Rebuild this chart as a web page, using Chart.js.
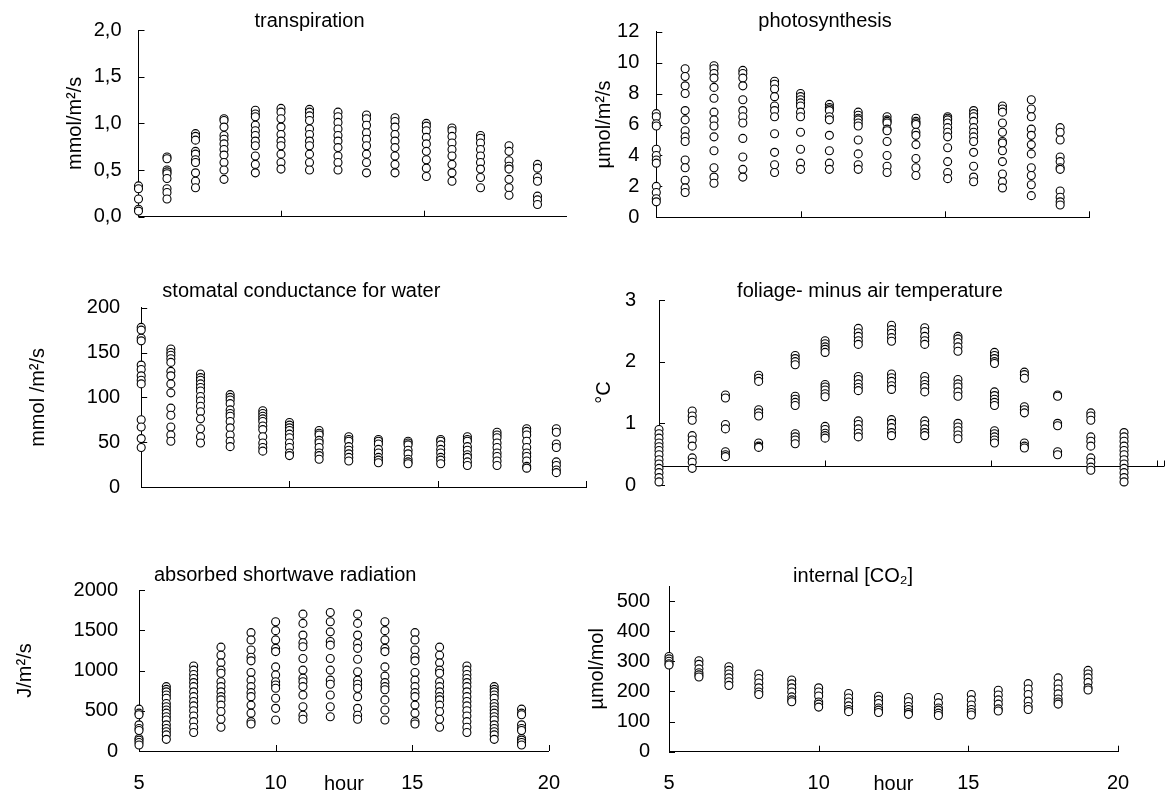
<!DOCTYPE html>
<html>
<head>
<meta charset="utf-8">
<script src="https://cdn.jsdelivr.net/npm/chart.js@4"></script>
<style>
  body { margin: 0; background: #fff; }
  #page { position: relative; width: 1169px; height: 796px; overflow: hidden; }
  .panel { position: absolute; }
</style>
</head>
<body>
<div id="page">
  <div class="panel" style="left:0;top:0;width:580px;height:255px"><canvas id="transp"></canvas></div>
  <div class="panel" style="left:580px;top:0;width:589px;height:255px"><canvas id="photo"></canvas></div>
  <div class="panel" style="left:0;top:262px;width:595px;height:258px"><canvas id="gs"></canvas></div>
  <div class="panel" style="left:580px;top:262px;width:589px;height:258px"><canvas id="dtemp"></canvas></div>
  <div class="panel" style="left:0;top:555px;width:580px;height:241px"><canvas id="rad"></canvas></div>
  <div class="panel" style="left:580px;top:555px;width:589px;height:241px"><canvas id="ci"></canvas></div>
</div>
<script>
// measurement hours (the 9 and 15 o'clock runs started a little late)
const hours = [5, 6, 7, 8, 9.1, 10, 11, 12, 13, 14, 15.1, 16, 17, 18, 19];

// one inner list per hour, in the order of `hours`
const transpiration = [
  [0.33, 0.30, 0.19, 0.08, 0.06],
  [0.64, 0.62, 0.50, 0.48, 0.46, 0.41, 0.30, 0.26, 0.19],
  [0.89, 0.86, 0.82, 0.70, 0.67, 0.61, 0.58, 0.47, 0.38, 0.31],
  [1.05, 1.03, 0.96, 0.87, 0.83, 0.78, 0.72, 0.66, 0.58, 0.50, 0.40],
  [1.14, 1.10, 1.07, 0.98, 0.92, 0.87, 0.81, 0.76, 0.65, 0.56, 0.47],
  [1.16, 1.12, 1.05, 0.96, 0.88, 0.81, 0.76, 0.67, 0.58, 0.51],
  [1.15, 1.12, 1.08, 1.03, 0.94, 0.88, 0.81, 0.76, 0.67, 0.58, 0.50],
  [1.12, 1.07, 1.01, 0.94, 0.87, 0.81, 0.74, 0.65, 0.58, 0.50],
  [1.09, 1.05, 0.98, 0.90, 0.83, 0.76, 0.67, 0.58, 0.47],
  [1.06, 1.02, 0.96, 0.88, 0.81, 0.74, 0.65, 0.56, 0.47],
  [1.00, 0.97, 0.92, 0.85, 0.78, 0.70, 0.61, 0.52, 0.43],
  [0.95, 0.92, 0.86, 0.79, 0.72, 0.65, 0.56, 0.47, 0.38],
  [0.87, 0.84, 0.79, 0.72, 0.65, 0.58, 0.51, 0.42, 0.31],
  [0.76, 0.70, 0.60, 0.54, 0.51, 0.40, 0.31, 0.23],
  [0.56, 0.52, 0.42, 0.38, 0.22, 0.18, 0.13]
];

const photosynthesis = [
  [6.7, 6.5, 6.05, 5.9, 4.4, 4.0, 3.7, 3.5, 2.0, 1.6, 1.2, 1.0],
  [9.6, 9.1, 8.5, 8.0, 6.9, 6.3, 5.6, 5.2, 4.9, 3.7, 3.2, 2.4, 1.9, 1.6],
  [9.8, 9.6, 9.3, 9.0, 8.4, 7.7, 6.8, 6.3, 5.9, 5.2, 4.3, 3.2, 2.6, 2.2],
  [9.5, 9.3, 9.0, 8.5, 7.6, 6.9, 6.5, 6.1, 5.1, 3.9, 3.1, 2.6],
  [8.8, 8.6, 8.3, 7.8, 7.2, 6.9, 6.5, 5.4, 4.2, 3.4, 2.9],
  [8.0, 7.8, 7.6, 7.4, 7.2, 6.8, 6.5, 5.5, 4.4, 3.5, 3.1],
  [7.3, 7.1, 7.0, 6.9, 6.5, 6.3, 5.3, 4.3, 3.5, 3.1],
  [6.8, 6.6, 6.4, 6.3, 6.1, 5.9, 5.0, 4.1, 3.4, 3.1],
  [6.5, 6.3, 6.2, 6.1, 5.7, 5.6, 4.9, 4.0, 3.3, 2.9],
  [6.4, 6.2, 6.1, 6.0, 5.5, 5.3, 4.7, 3.8, 3.2, 2.7],
  [6.5, 6.4, 6.3, 6.1, 5.8, 5.5, 5.2, 4.5, 3.6, 2.9, 2.5],
  [6.9, 6.7, 6.5, 6.2, 5.8, 5.5, 5.2, 4.9, 4.2, 3.3, 2.6, 2.3],
  [7.2, 7.0, 6.8, 6.1, 5.5, 4.9, 4.8, 4.3, 3.6, 2.8, 2.3, 1.9],
  [7.6, 7.0, 6.5, 5.7, 5.3, 4.7, 4.1, 3.2, 2.7, 2.1, 1.4],
  [5.8, 5.5, 5.0, 3.9, 3.6, 3.2, 3.1, 1.7, 1.3, 1.0, 0.8]
];

const conductance = [
  [178, 175, 166, 163, 136, 131, 124, 119, 115, 75, 67, 54, 44],
  [154, 150, 147, 143, 139, 129, 124, 115, 105, 88, 80, 67, 58, 51],
  [126, 122, 119, 115, 111, 107, 101, 96, 90, 84, 76, 65, 56, 49],
  [103, 100, 97, 93, 86, 82, 79, 73, 66, 58, 51, 45],
  [85, 82, 79, 76, 73, 68, 64, 56, 49, 44, 40],
  [72, 69, 66, 63, 59, 55, 49, 44, 38, 35],
  [63, 60, 58, 52, 49, 44, 38, 35, 31],
  [56, 53, 51, 45, 41, 37, 33, 29],
  [53, 51, 48, 42, 38, 33, 30, 27],
  [51, 49, 47, 41, 37, 31, 28, 26],
  [53, 51, 47, 42, 38, 33, 30, 26],
  [56, 53, 51, 45, 41, 36, 33, 28, 24],
  [61, 58, 55, 49, 44, 38, 34, 29, 24],
  [65, 62, 58, 51, 44, 38, 34, 29, 23, 21],
  [65, 61, 48, 44, 28, 24, 19, 16]
];

const leafAirDiff = [
  [0.90, 0.83, 0.76, 0.68, 0.62, 0.56, 0.49, 0.41, 0.34, 0.27, 0.20, 0.12, 0.05],
  [1.20, 1.12, 1.05, 0.80, 0.73, 0.63, 0.44, 0.37, 0.27],
  [1.46, 1.41, 0.98, 0.91, 0.54, 0.49, 0.46],
  [1.78, 1.73, 1.68, 1.22, 1.17, 1.12, 0.68, 0.63, 0.61],
  [2.10, 2.05, 2.00, 1.95, 1.44, 1.39, 1.34, 1.29, 0.83, 0.78, 0.73, 0.67],
  [2.34, 2.29, 2.24, 2.20, 2.15, 1.63, 1.59, 1.54, 1.48, 1.43, 0.95, 0.90, 0.84, 0.80, 0.76],
  [2.54, 2.47, 2.41, 2.34, 2.28, 1.76, 1.71, 1.64, 1.58, 1.53, 1.04, 0.98, 0.91, 0.84, 0.78],
  [2.59, 2.52, 2.46, 2.39, 2.33, 1.80, 1.74, 1.68, 1.61, 1.55, 1.06, 1.00, 0.93, 0.85, 0.80],
  [2.55, 2.49, 2.41, 2.34, 2.28, 1.76, 1.69, 1.63, 1.58, 1.51, 1.04, 0.98, 0.91, 0.85, 0.80],
  [2.41, 2.37, 2.31, 2.24, 2.17, 1.71, 1.64, 1.59, 1.51, 1.44, 1.00, 0.94, 0.88, 0.81, 0.75],
  [2.15, 2.10, 2.05, 2.00, 1.97, 1.51, 1.45, 1.39, 1.34, 1.29, 0.88, 0.83, 0.78, 0.73, 0.68],
  [1.83, 1.79, 1.73, 1.27, 1.22, 1.17, 0.68, 0.63, 0.60],
  [1.46, 1.44, 1.00, 0.96, 0.54, 0.49],
  [1.17, 1.12, 1.05, 0.78, 0.71, 0.63, 0.44, 0.37, 0.29, 0.24],
  [0.85, 0.78, 0.71, 0.63, 0.56, 0.49, 0.41, 0.34, 0.27, 0.20, 0.12, 0.05]
];

const radiation = [
  [520, 470, 450, 325, 280, 255, 155, 135, 105, 75],
  [800, 765, 735, 695, 655, 590, 550, 510, 470, 425, 385, 325, 280, 240, 200, 145],
  [1055, 1005, 950, 900, 850, 800, 735, 675, 615, 560, 500, 435, 365, 295, 230],
  [1290, 1190, 1095, 1005, 965, 860, 800, 735, 675, 635, 570, 490, 395, 295],
  [1470, 1380, 1255, 1165, 1120, 975, 880, 800, 725, 675, 570, 470, 365, 335],
  [1605, 1495, 1380, 1275, 1235, 1045, 945, 860, 820, 780, 655, 530, 385],
  [1700, 1585, 1440, 1345, 1295, 1150, 1005, 905, 860, 800, 695, 550, 445, 395],
  [1720, 1605, 1480, 1360, 1315, 1150, 1005, 880, 830, 695, 550, 425],
  [1700, 1585, 1440, 1335, 1275, 1140, 985, 880, 830, 780, 675, 530, 445, 395],
  [1605, 1495, 1380, 1275, 1235, 1045, 930, 850, 800, 760, 635, 510, 385],
  [1470, 1380, 1255, 1165, 1120, 975, 880, 800, 725, 675, 570, 470, 365, 335],
  [1290, 1190, 1095, 1005, 965, 860, 800, 735, 675, 635, 570, 490, 395, 295],
  [1055, 1005, 950, 900, 850, 800, 735, 675, 615, 560, 500, 435, 365, 295, 230],
  [800, 765, 735, 695, 655, 590, 550, 510, 470, 425, 385, 325, 280, 240, 200, 145],
  [520, 470, 450, 325, 280, 255, 155, 135, 105, 75]
];

const internalCO2 = [
  [316, 308, 300, 292, 288],
  [302, 290, 275, 262, 255, 248],
  [282, 270, 258, 245, 232, 220],
  [258, 243, 228, 212, 198, 190],
  [238, 225, 212, 198, 182, 172, 166],
  [212, 198, 185, 165, 158, 148],
  [193, 178, 165, 152, 140, 133],
  [184, 172, 160, 145, 138, 130],
  [180, 166, 150, 140, 130, 124],
  [180, 162, 145, 138, 128, 120],
  [190, 172, 155, 140, 130, 122],
  [204, 188, 172, 158, 142, 135],
  [226, 208, 190, 168, 150, 140],
  [245, 225, 208, 192, 175, 165, 158],
  [270, 258, 245, 230, 212, 205]
];

const FONT = { family: '"Liberation Sans", Arial, sans-serif', size: 20 };
Chart.defaults.font.family = FONT.family;
Chart.defaults.font.size = FONT.size;
Chart.defaults.color = '#000';

function plain(v) { return String(v); }
function comma(v) { return v.toFixed(1).replace('.', ','); }

function makePanel(id, values, cfg) {
  const a = cfg.area;       // chart area inside the canvas box
  const W = cfg.w, H = cfg.h;
  const crossed = cfg.crossY !== undefined;

  const points = [];
  hours.forEach((h, i) => {
    values[i].forEach(v => points.push({ x: h, y: v }));
  });

  // short inward tick marks, Excel style, plus the panel heading
  const decor = {
    id: 'decor',
    beforeDatasetsDraw(chart) {
      const ctx = chart.ctx;
      const xs = chart.scales.x, ys = chart.scales.y;
      const axisY = ys.getPixelForValue(crossed ? cfg.crossY : ys.min);
      ctx.save();
      ctx.strokeStyle = '#000';
      ctx.lineWidth = 1;
      ctx.beginPath();
      cfg.xTicks.forEach(v => {
        const px = Math.round(xs.getPixelForValue(v)) + 0.5;
        ctx.moveTo(px, axisY);
        ctx.lineTo(px, axisY - 6);
      });
      ys.ticks.forEach(t => {
        const py = Math.round(ys.getPixelForValue(t.value)) + 0.5;
        ctx.moveTo(chart.chartArea.left, py);
        ctx.lineTo(chart.chartArea.left + 6, py);
      });
      ctx.stroke();
      ctx.restore();
    },
    afterDraw(chart) {
      const ctx = chart.ctx;
      ctx.save();
      ctx.font = FONT.size + 'px ' + FONT.family;
      ctx.fillStyle = '#000';
      ctx.textAlign = 'center';
      ctx.textBaseline = 'middle';
      ctx.fillText(cfg.title, chart.scales.x.getPixelForValue(cfg.titleAt), cfg.titleY);
      ctx.restore();
    }
  };

  return new Chart(document.getElementById(id), {
    type: 'scatter',
    data: {
      datasets: [{
        data: points,
        pointRadius: 4,
        pointHoverRadius: 4,
        pointBorderWidth: 1.1,
        borderColor: '#000',
        backgroundColor: '#fff',
        clip: false
      }]
    },
    options: {
      animation: false,
      responsive: true,
      maintainAspectRatio: false,
      events: [],
      layout: { padding: { top: a.t, right: W - a.r, bottom: crossed ? H - a.b : 0, left: 0 } },
      plugins: { legend: { display: false }, tooltip: { enabled: false } },
      scales: {
        x: {
          type: 'linear',
          min: 5,
          max: cfg.xMax || 20,
          position: crossed ? { y: cfg.crossY } : 'bottom',
          grid: { display: false, drawTicks: false },
          border: { display: true, color: '#000', width: 1 },
          ticks: { display: !!cfg.xLabels, stepSize: 5, padding: 20, maxRotation: 0, callback: plain },
          title: { display: !!cfg.xLabels, text: 'hour', padding: 0 },
          afterFit(s) { if (!crossed) s.height = H - a.b; }
        },
        y: {
          min: cfg.yMin,
          max: cfg.yMax,
          grid: { display: false, drawTicks: false },
          border: { display: true, color: '#000', width: 1 },
          ticks: { stepSize: cfg.yStep, includeBounds: false, padding: cfg.tickPad, callback: cfg.fmt || plain },
          title: { display: true, text: cfg.yLabel, padding: { top: cfg.labelPad, bottom: 0 } },
          afterFit(s) { s.width = a.l; }
        }
      }
    },
    plugins: [decor]
  });
}

makePanel('transp', transpiration, {
  w: 580, h: 255, area: { l: 138.5, t: 30, r: 566, b: 216.7 },
  yMin: 0, yMax: 2, yStep: 0.5, fmt: comma, tickPad: 17,
  yLabel: 'mmol/m²/s', labelPad: 63,
  title: 'transpiration', titleAt: 11.0, titleY: 21.7,
  xTicks: [10, 15]
});

makePanel('photo', photosynthesis, {
  w: 589, h: 255, area: { l: 76.3, t: 31.7, r: 509, b: 217.3 },
  yMin: 0, yMax: 12, yStep: 2, tickPad: 17,
  yLabel: 'µmol/m²/s', labelPad: 12,
  title: 'photosynthesis', titleAt: 10.85, titleY: 21.7,
  xTicks: [10, 15, 20]
});

makePanel('gs', conductance, {
  w: 595, h: 258, area: { l: 141.2, t: 45.7, r: 586, b: 236.3 },
  yMin: 0, yMax: 200, yStep: 50, tickPad: 21,
  yLabel: 'mmol /m²/s', labelPad: 26,
  title: 'stomatal conductance for water', titleAt: 10.4, titleY: 29.7,
  xTicks: [10, 15, 20]
});

makePanel('dtemp', leafAirDiff, {
  w: 589, h: 258, area: { l: 79, t: 38, r: 587, b: 243 },
  yMin: 0, yMax: 3, yStep: 1, tickPad: 23, crossY: 0.3, xMax: 20.2,
  yLabel: '°C', labelPad: 12,
  title: 'foliage- minus air temperature', titleAt: 11.35, titleY: 29.7,
  xTicks: [10, 15, 20, 20.2]
});

makePanel('rad', radiation, {
  w: 580, h: 241, area: { l: 139, t: 35, r: 553.8, b: 196 },
  yMin: 0, yMax: 2000, yStep: 500, tickPad: 21,
  yLabel: 'J/m²/s', labelPad: 13,
  title: 'absorbed shortwave radiation', titleAt: 10.35, titleY: 20,
  xTicks: [10, 15, 20], xLabels: true
});

makePanel('ci', internalCO2, {
  w: 589, h: 241, area: { l: 89, t: 30, r: 538, b: 196.7 },
  yMin: 0, yMax: 550, yStep: 100, tickPad: 19,
  yLabel: 'µmol/mol', labelPad: 5,
  title: 'internal [CO₂]', titleAt: 11.15, titleY: 21.7,
  xTicks: [10, 15, 20], xLabels: true
});
</script>
</body>
</html>
